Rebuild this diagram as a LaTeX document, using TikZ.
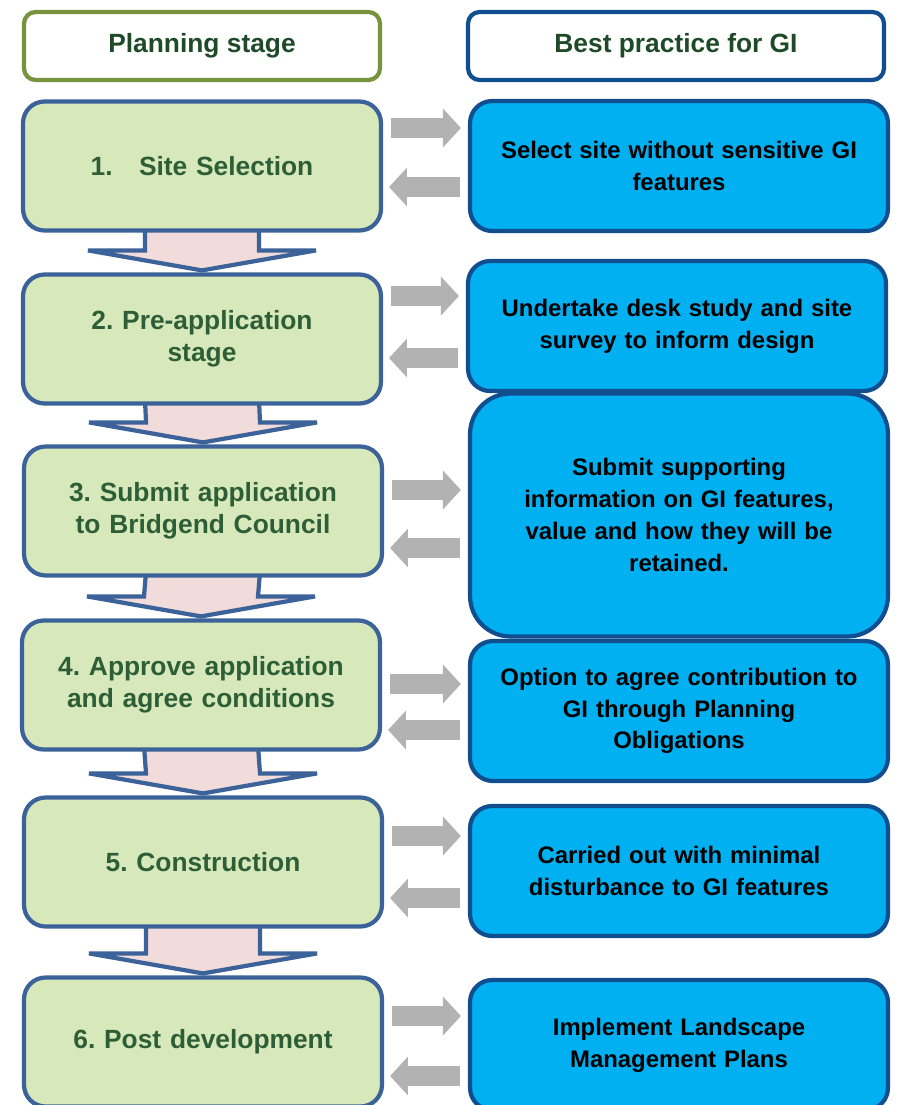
\documentclass[tikz,border=0pt]{standalone}
\usepackage{fontspec}
\setmainfont{Liberation Sans}
\frenchspacing
\usetikzlibrary{arrows.meta,calc,backgrounds}

\definecolor{stagefill}{RGB}{215,233,187}
\definecolor{stageline}{RGB}{59,99,153}
\definecolor{stagetext}{RGB}{46,94,56}
\definecolor{headgreen}{RGB}{119,147,60}
\definecolor{headtext}{RGB}{30,74,40}
\definecolor{gifill}{RGB}{0,176,240}
\definecolor{giline}{RGB}{16,78,143}
\definecolor{flowpink}{RGB}{242,220,219}
\definecolor{flowgrey}{RGB}{178,178,178}

\begin{document}
\begin{tikzpicture}[x=0.02cm,y=-0.02cm,
  header/.style={fill=white,line width=2.4pt,rounded corners=0.23cm,
    minimum height=1.36cm,inner sep=0pt,text=headtext,
    font=\fontsize{15}{18}\selectfont\bfseries},
  stage/.style={draw=stageline,fill=stagefill,line width=2.4pt,
    rounded corners=0.43cm,minimum width=7.16cm,minimum height=2.58cm,
    text width=6.8cm,align=center,inner sep=0pt,text=stagetext,
    font=\fontsize{15}{18.1}\selectfont\bfseries},
  practice/.style={draw=giline,fill=gifill,line width=2.4pt,
    rounded corners=0.44cm,minimum width=8.36cm,minimum height=2.6cm,
    text width=8cm,align=center,inner sep=0pt,
    font=\fontsize{13.6}{18.1}\selectfont\bfseries},
  fwdarrow/.style={draw=flowgrey,line width=11.3pt,
    -{Triangle[length=10.2pt,width=21.5pt]},shorten <=4.5pt,shorten >=4pt},
  backarrow/.style={draw=flowgrey,line width=11.3pt,
    -{Triangle[length=10.2pt,width=21.5pt]},shorten <=4.5pt,shorten >=3.4pt},
  downarrow/.style={draw=stageline,fill=flowpink,line width=2.4pt,line join=miter}]

\useasboundingbox (0,0) rectangle (896,1105);

% Column headers
\node[header,draw=headgreen,minimum width=7.12cm] (hplan) at (202,46) {Planning stage};
\node[header,draw=giline,minimum width=8.32cm] (hbest) at (676,46) {Best practice for GI};

% Planning stages
\node[stage] (s1) at (202,166) {1.\quad Site Selection};
\node[stage] (s2) at (202,339) {2. Pre-application\\stage};
\node[stage] (s3) at (203,511) {3. Submit application\\to Bridgend Council};
\node[stage] (s4) at (201,685) {4. Approve application\\and agree conditions};
\node[stage] (s5) at (203,862) {5. Construction};
\node[stage] (s6) at (203,1042) {6. Post development};

% Best practice boxes
\node[practice] (p1) at (679,166) {Select site without sensitive GI\\features};
\node[practice] (p2) at (677,326) {Undertake desk study and site\\survey to inform design};
\node[practice,minimum height=4.86cm,rounded corners=0.81cm] (p3) at (679,515)
  {Submit supporting\\information on GI features,\\value and how they will be\\retained.};
\node[practice,minimum height=2.8cm,rounded corners=0.46cm] (p4) at (679,711)
  {Option to agree contribution to\\GI through Planning\\Obligations};
\node[practice] (p5) at (679,871) {Carried out with minimal\\disturbance to GI features};
\node[practice] (p6) at (679,1045) {Implement Landscape\\Management Plans};

% Grey arrows, out and back
\foreach \i/\ya/\yb in {1/128/187,2/296/358,3/490/548,4/684/730,5/836/898,6/1016/1076} {
  \draw[fwdarrow] (s\i.east |- 0,\ya) -- (p\i.west |- 0,\ya);
  \draw[backarrow] (p\i.west |- 0,\yb) -- (s\i.east |- 0,\yb);
}

% Block arrows between stages
\begin{scope}[on background layer]
\foreach \i/\j in {1/2,2/3,3/4,4/5,5/6}
  \draw[downarrow] ($(s\i.south)+(-57,-6)$) -- ($(s\j.north)+(-57,-22)$) -- ++(-57,0)
    -- ($(s\j.north)+(0,-2)$) -- ($(s\j.north)+(114,-22)$) -- ++(-57,0)
    -- ($(s\i.south)+(57,-6)$) -- cycle;
\end{scope}

\end{tikzpicture}
\end{document}
